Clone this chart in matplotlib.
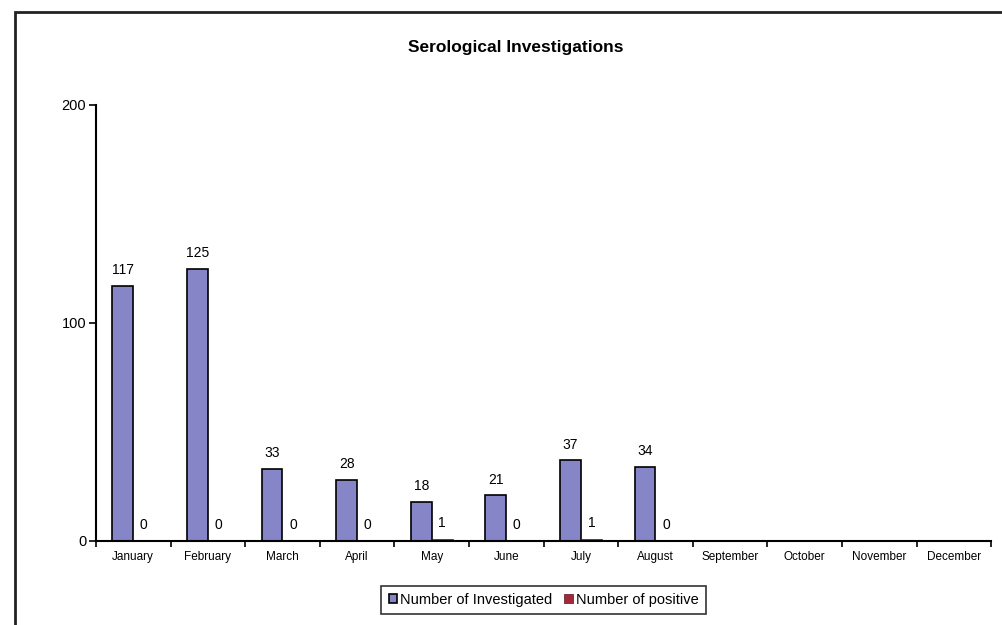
import numpy as np
import matplotlib.pyplot as plt
from matplotlib.patches import Rectangle

months = ["January", "February", "March", "April", "May", "June", "July",
          "August", "September", "October", "November", "December"]
investigated = [117, 125, 33, 28, 18, 21, 37, 34]
positive = [0, 0, 0, 0, 1, 0, 1, 0]

blue = "#8585C8"
red = "#A3283C"
font = "Liberation Sans"

fig = plt.figure(figsize=(10.03, 6.25), dpi=100)
ax = fig.add_axes([0.0957, 0.1344, 0.8925, 0.6976])

x = np.arange(len(investigated))
w = 0.28
b1 = ax.bar(x - w / 2, investigated, w, color=blue, edgecolor="black", linewidth=1.2,
            label="Number of Investigated")
b2 = ax.bar(x + w / 2, positive, w, color=red, edgecolor="#5a1020", linewidth=0.5,
            label="Number of positive")

for xi, v in zip(x, investigated):
    ax.text(xi - w / 2, v + 4, str(v), ha="center", va="bottom", fontsize=10, family=font)
for xi, v in zip(x, positive):
    ax.text(xi + w / 2, v + 4, str(v), ha="center", va="bottom", fontsize=10, family=font)

ax.set_xlim(-0.5, len(months) - 0.5)
ax.set_ylim(0, 200)
ax.set_yticks([0, 100, 200])
ax.set_yticklabels(["0", "100", "200"], fontsize=10.5, family=font)
ax.set_xticks(np.arange(len(months)))
ax.set_xticklabels(months, fontsize=8.5, family=font)
ax.set_xticks(np.arange(len(months) + 1) - 0.5, minor=True)
ax.tick_params(axis="x", which="major", length=0, pad=7)
ax.tick_params(axis="x", which="minor", length=4, width=1.2, direction="out")
ax.tick_params(axis="y", length=5, width=1.2, direction="out", pad=2)
for s in ["top", "right"]:
    ax.spines[s].set_visible(False)
ax.spines["left"].set_linewidth(1.5)
ax.spines["bottom"].set_linewidth(1.5)

fig.text(0.514, 0.924, "Serological Investigations", ha="center", va="center",
         fontsize=12.5, fontweight="bold", family=font)

leg = fig.legend(handles=[b1, b2], loc="center", bbox_to_anchor=(0.542, 0.04), ncol=2,
                 prop={"family": font, "size": 10.5},
                 frameon=True, fancybox=False, edgecolor="black",
                 handlelength=0.6, handleheight=0.6, handletextpad=0.2, columnspacing=0.8,
                 borderpad=0.5)
leg.get_frame().set_linewidth(1.2)

# outer chart border
fig.patches.append(Rectangle((15 / 1003, -0.1), 1.2, 1.1 - 12 / 625, transform=fig.transFigure,
                             fill=False, edgecolor="#222222", linewidth=2))

fig.savefig("out.png", dpi=100)
